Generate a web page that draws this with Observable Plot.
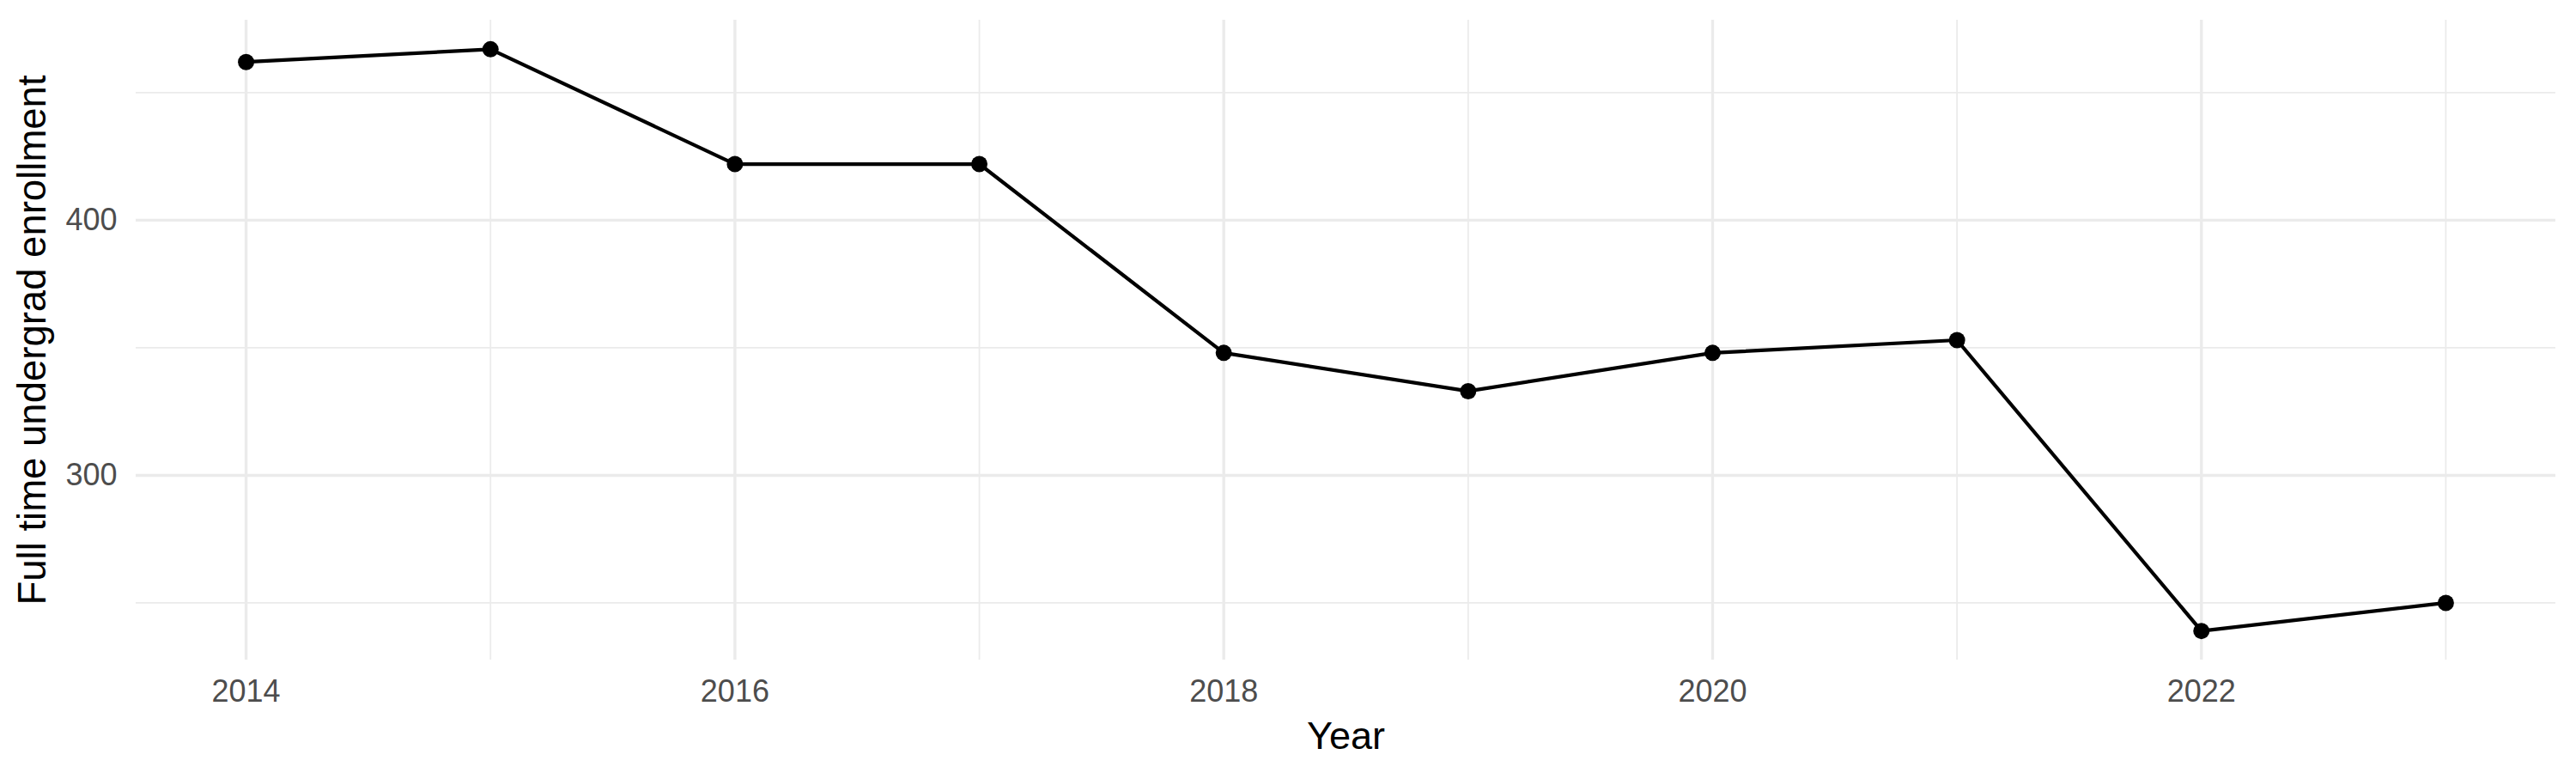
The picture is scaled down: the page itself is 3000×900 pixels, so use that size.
<!DOCTYPE html>
<html>
<head>
<meta charset="utf-8">
<script src="https://cdn.jsdelivr.net/npm/d3@7"></script>
<script src="https://cdn.jsdelivr.net/npm/@observablehq/plot@0.6"></script>
<style>
  html, body { margin: 0; padding: 0; background: #ffffff; }
  #chart svg { display: block; }
</style>
</head>
<body>
<div id="chart"></div>
<script>
const years = [2014, 2015, 2016, 2017, 2018, 2019, 2020, 2021, 2022, 2023];
const enrollment = [462, 467, 422, 422, 348, 333, 348, 353, 239, 250];
const xMajorTicks = [2014, 2016, 2018, 2020, 2022];
const xMinorTicks = [2015, 2017, 2019, 2021, 2023];
const yMajorTicks = [300, 400];
const yMinorTicks = [250, 350, 450];
const xTitle = "Year";
const yTitle = "Full time undergrad enrollment";

const data = years.map((yr, i) => ({year: yr, value: enrollment[i]}));

const font = "'Liberation Sans', Arial, Helvetica, sans-serif";
const grid = "#EBEBEB";

const chart = Plot.plot({
  width: 3000,
  height: 900,
  marginLeft: 158,
  marginRight: 24,
  marginTop: 23,
  marginBottom: 132,
  style: {fontFamily: font, background: "#ffffff", overflow: "visible"},
  x: {domain: [2013.55, 2023.45]},
  y: {domain: [227.6, 478.4]},
  marks: [
    Plot.ruleY(yMinorTicks, {stroke: grid, strokeWidth: 1.8}),
    Plot.ruleX(xMinorTicks, {stroke: grid, strokeWidth: 1.8}),
    Plot.ruleY(yMajorTicks, {stroke: grid, strokeWidth: 3.4}),
    Plot.ruleX(xMajorTicks, {stroke: grid, strokeWidth: 3.4}),
    Plot.axisX({ticks: xMajorTicks, tickFormat: d => String(d), tickSize: 0, tickPadding: 23, fontSize: 36, fill: "#4D4D4D", label: null}),
    Plot.axisY({ticks: yMajorTicks, tickFormat: d => String(d), tickSize: 0, tickPadding: 22, fontSize: 36, fill: "#4D4D4D", label: null}),
    Plot.text([xTitle], {frameAnchor: "bottom", textAnchor: "middle", lineAnchor: "middle", dy: 89, fontSize: 45, fill: "#000000"}),
    Plot.text([yTitle], {frameAnchor: "left", textAnchor: "middle", lineAnchor: "middle", dx: -120, rotate: -90, fontSize: 45.5, fill: "#000000"}),
    Plot.line(data, {x: "year", y: "value", stroke: "#000000", strokeWidth: 4.2}),
    Plot.dot(data, {x: "year", y: "value", r: 9.5, fill: "#000000", stroke: "none"})
  ]
});

document.getElementById("chart").appendChild(chart);
</script>
</body>
</html>
